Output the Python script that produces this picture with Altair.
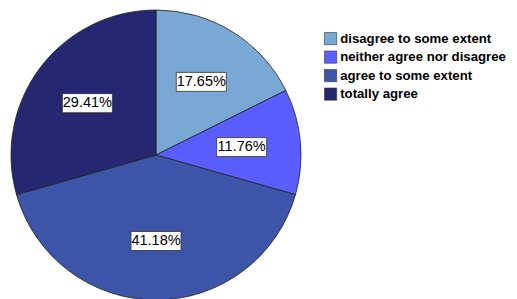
import altair as alt
import pandas as pd
import numpy as np

categories = ["disagree to some extent", "neither agree nor disagree", "agree to some extent", "totally agree"]
values = [17.65, 11.76, 41.18, 29.41]
labels = ["17.65%", "11.76%", "41.18%", "29.41%"]
colors = ["#79A8D5", "#5A5EFF", "#3D55A8", "#252770"]

W, H = 296, 290
R = 145
LR = 86  # label radius
BW, BH = 50, 19

df = pd.DataFrame({"cat": categories, "value": values, "label": labels, "idx": range(len(values))})
total = df["value"].sum()
cum = df["value"].cumsum() - df["value"] / 2
ang = cum / total * 2 * np.pi
df["lx"] = LR * np.sin(ang)
df["ly"] = LR * np.cos(ang)
df["bx"] = df["lx"] - BW / 2
df["bx2"] = df["lx"] + BW / 2
df["by"] = df["ly"] - BH / 2
df["by2"] = df["ly"] + BH / 2

base = alt.Chart(df)

pie = base.mark_arc(outerRadius=R, stroke="#222222", strokeWidth=0.8).encode(
    theta=alt.Theta("value:Q", stack=True),
    color=alt.Color("cat:N", scale=alt.Scale(domain=categories, range=colors),
                    sort=categories,
                    legend=alt.Legend(title=None, orient="none", legendX=316, legendY=22,
                                      symbolType="square", symbolSize=150,
                                      symbolStrokeColor="#333333", symbolStrokeWidth=0.6,
                                      labelFont="Liberation Sans", labelFontSize=13.2,
                                      labelFontWeight="bold", labelColor="#000000",
                                      labelOffset=3, rowPadding=3.5, labelLimit=300,
                                      padding=0)),
    order=alt.Order("idx:Q"),
)

xs = alt.Scale(domain=[-W / 2, W / 2], range=[0, W])
ys = alt.Scale(domain=[-H / 2, H / 2], range=[H, 0])

boxes = base.mark_rect(fill="white", stroke="#333333", strokeWidth=0.8).encode(
    x=alt.X("bx:Q", scale=xs, axis=None),
    x2="bx2:Q",
    y=alt.Y("by:Q", scale=ys, axis=None),
    y2="by2:Q",
)

texts = base.mark_text(font="Liberation Sans", fontSize=14.5, color="#000000").encode(
    x=alt.X("lx:Q", scale=xs, axis=None),
    y=alt.Y("ly:Q", scale=ys, axis=None),
    text="label:N",
)

chart = alt.layer(pie, boxes, texts).properties(
    width=W, height=H, padding=0
).resolve_scale(x="shared", y="shared").configure_view(stroke=None)

chart.save("out.html", embed_options={"renderer": "svg", "actions": False})
